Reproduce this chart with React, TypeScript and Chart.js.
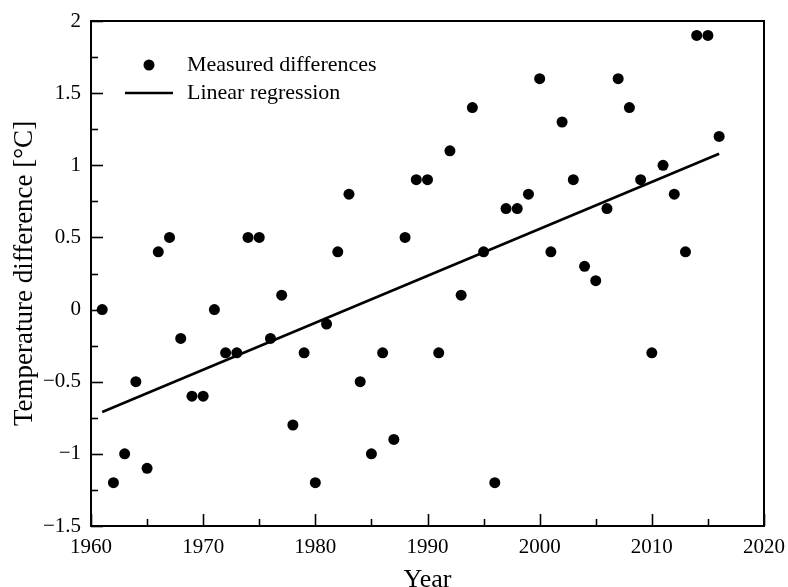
import React, { useEffect, useRef } from "react";
import { Chart, registerables } from "chart.js";

Chart.register(...registerables);

// ---- data ----
const years = [
  1961, 1962, 1963, 1964, 1965, 1966, 1967, 1968, 1969, 1970,
  1971, 1972, 1973, 1974, 1975, 1976, 1977, 1978, 1979, 1980,
  1981, 1982, 1983, 1984, 1985, 1986, 1987, 1988, 1989, 1990,
  1991, 1992, 1993, 1994, 1995, 1996, 1997, 1998, 1999, 2000,
  2001, 2002, 2003, 2004, 2005, 2006, 2007, 2008, 2009, 2010,
  2011, 2012, 2013, 2014, 2015, 2016,
];
const differences = [
  0, -1.2, -1.0, -0.5, -1.1, 0.4, 0.5, -0.2, -0.6, -0.6,
  0, -0.3, -0.3, 0.5, 0.5, -0.2, 0.1, -0.8, -0.3, -1.2,
  -0.1, 0.4, 0.8, -0.5, -1.0, -0.3, -0.9, 0.5, 0.9, 0.9,
  -0.3, 1.1, 0.1, 1.4, 0.4, -1.2, 0.7, 0.7, 0.8, 1.6,
  0.4, 1.3, 0.9, 0.3, 0.2, 0.7, 1.6, 1.4, 0.9, -0.3,
  1.0, 0.8, 0.4, 1.9, 1.9, 1.2,
];
const regressionYears = [1961, 2016];
const regressionValues = [-0.71, 1.08];

const seriesLabels = ["Measured differences", "Linear regression"];
const xTitle = "Year";
const yTitle = "Temperature difference [°C]";

const xMin = 1960;
const xMax = 2020;
const xMinorStep = 5;
const xMajorStep = 10;
const yMin = -1.5;
const yMax = 2;
const yMinorStep = 0.25;
const yMajorStep = 0.5;

const FONT = "'Liberation Serif', 'Times New Roman', Times, serif";

const isMultiple = (v: number, step: number) =>
  Math.abs(v / step - Math.round(v / step)) < 1e-6;

const fmt = (v: number) => {
  const s = String(Math.round(Math.abs(v) * 100) / 100);
  return v < -1e-9 ? "\u2212" + s : s;
};

const framePlugin = {
  id: "frameTicks",
  afterDraw(chart: any) {
    const { ctx, chartArea } = chart;
    const { left, right, top, bottom } = chartArea;
    ctx.save();
    ctx.strokeStyle = "#000";
    ctx.lineWidth = 1.6;
    // inward ticks
    const xs = chart.scales.x;
    xs.ticks.forEach((t: any) => {
      const px = Math.round(xs.getPixelForValue(t.value)) + 0.5;
      const len = isMultiple(t.value, xMajorStep) ? 12 : 7;
      ctx.beginPath();
      ctx.moveTo(px, bottom);
      ctx.lineTo(px, bottom - len);
      ctx.stroke();
    });
    const ys = chart.scales.y;
    ys.ticks.forEach((t: any) => {
      const py = Math.round(ys.getPixelForValue(t.value)) + 0.5;
      const len = isMultiple(t.value, yMajorStep) ? 12 : 7;
      ctx.beginPath();
      ctx.moveTo(left, py);
      ctx.lineTo(left + len, py);
      ctx.stroke();
    });
    // frame
    ctx.lineWidth = 2;
    ctx.strokeRect(left, top, right - left, bottom - top);

    // legend
    const ds = chart.data.datasets;
    ctx.fillStyle = "#000";
    ctx.font = `22px ${FONT}`;
    ctx.textBaseline = "middle";
    ctx.textAlign = "left";
    ctx.beginPath();
    ctx.arc(149, 65, 5.5, 0, Math.PI * 2);
    ctx.fill();
    ctx.fillText(ds[0].label, 187, 65);
    ctx.lineWidth = 2.5;
    ctx.beginPath();
    ctx.moveTo(125, 93);
    ctx.lineTo(173, 93);
    ctx.stroke();
    ctx.fillText(ds[1].label, 187, 93);
    ctx.restore();
  },
};

export default function App() {
  const ref = useRef<HTMLCanvasElement | null>(null);

  useEffect(() => {
    if (!ref.current) return;
    const chart = new Chart(ref.current, {
      type: "scatter",
      data: {
        datasets: [
          {
            label: seriesLabels[0],
            data: years.map((y, i) => ({ x: y, y: differences[i] })),
            showLine: false,
            pointRadius: 5.5,
            pointBackgroundColor: "#000",
            pointBorderColor: "#000",
            pointBorderWidth: 0,
          },
          {
            label: seriesLabels[1],
            type: "line",
            data: regressionYears.map((y, i) => ({ x: y, y: regressionValues[i] })),
            showLine: true,
            borderColor: "#000",
            borderWidth: 2.5,
            pointRadius: 0,
            fill: false,
          },
        ],
      } as any,
      options: {
        animation: false,
        responsive: false,
        devicePixelRatio: 1,
        layout: { padding: { left: 0, top: 21, right: 24, bottom: 0 } },
        plugins: {
          legend: { display: false },
          tooltip: { enabled: false },
        },
        scales: {
          x: {
            type: "linear",
            min: xMin,
            max: xMax,
            grid: { display: false, drawTicks: false },
            border: { display: false },
            afterFit: (s: any) => {
              s.height = 61;
              s.paddingLeft = 0;
              s.paddingRight = 0;
            },
            ticks: {
              stepSize: xMinorStep,
              autoSkip: false,
              maxRotation: 0,
              padding: 9,
              color: "#000",
              font: { family: FONT, size: 21 },
              callback: (v: any) => (isMultiple(Number(v), xMajorStep) ? String(v) : ""),
            },
            title: {
              display: true,
              text: xTitle,
              color: "#000",
              font: { family: FONT, size: 26, lineHeight: 1 },
              padding: { top: 0, bottom: -6 },
            },
          },
          y: {
            type: "linear",
            min: yMin,
            max: yMax,
            grid: { display: false, drawTicks: false },
            border: { display: false },
            afterFit: (s: any) => {
              s.width = 91;
              s.paddingTop = 0;
              s.paddingBottom = 0;
            },
            ticks: {
              stepSize: yMinorStep,
              autoSkip: false,
              padding: 10,
              color: "#000",
              font: { family: FONT, size: 21 },
              callback: (v: any) => (isMultiple(Number(v), yMajorStep) ? fmt(Number(v)) : ""),
            },
            title: {
              display: true,
              text: yTitle,
              color: "#000",
              font: { family: FONT, size: 27, lineHeight: 1 },
              padding: { top: 11, bottom: 0 },
            },
          },
        },
      } as any,
      plugins: [framePlugin],
    });
    return () => chart.destroy();
  }, []);

  return (
    <div style={{ position: "fixed", left: 0, top: 0, width: 788, height: 587, background: "#fff" }}>
      <canvas ref={ref} width={788} height={587} style={{ width: 788, height: 587 }} />
    </div>
  );
}
